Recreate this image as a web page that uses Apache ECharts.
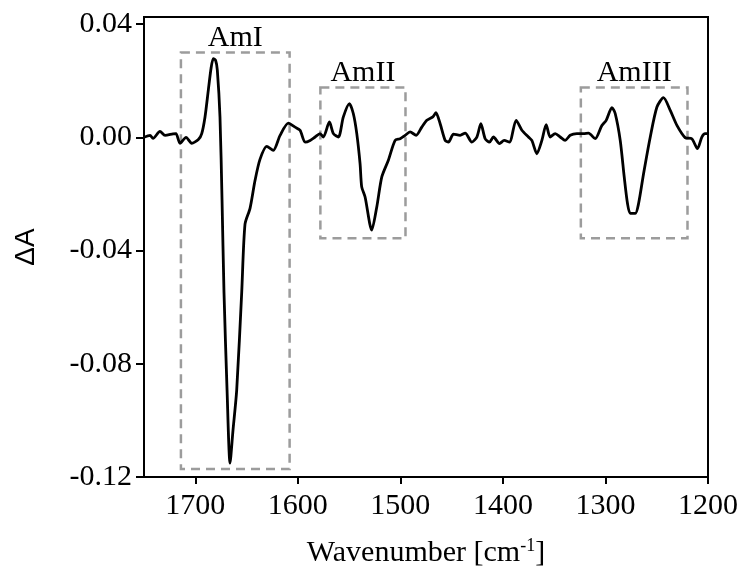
<!DOCTYPE html>
<html>
<head>
<meta charset="utf-8">
<script src="https://cdn.jsdelivr.net/npm/echarts@6/dist/echarts.min.js"></script>
<style>html,body{margin:0;padding:0;background:#fff}#c{width:741px;height:574px}</style>
</head>
<body>
<div id="c"></div>
<script>
// Wavenumber (cm^-1) and ΔA values
const wavenumbers = [1750,1744.1,1741.2,1734.4,1729.5,1721.7,1718.8,1714.9,1709.0,1703.5,1697.0,1693.7,1690.5,1687.3,1684.6,1682.4,1680.2,1678.5,1675.9,1673.9,1672.0,1669.0,1666.1,1663.2,1659.6,1654.7,1651.5,1646.6,1641.7,1636.9,1630.3,1623.9,1617.3,1609.2,1602.7,1597.8,1592.9,1588.0,1583.2,1578.3,1575.1,1569.2,1565.3,1560.4,1555.6,1549.7,1545.9,1542.5,1539.3,1537.7,1534.4,1527.9,1523.0,1518.1,1511.7,1505.1,1500.2,1495.4,1490.5,1484.6,1479.1,1474.2,1468.3,1465.4,1461.2,1456.3,1453.1,1448.2,1441.7,1436.8,1430.3,1425.4,1421.5,1417.3,1413.1,1409.2,1403.3,1398.8,1393.6,1387.1,1381.5,1375.1,1371.8,1366.9,1362.0,1357.8,1353.9,1349.0,1344.1,1339.3,1334.4,1327.9,1321.4,1316.5,1310.0,1303.5,1299.3,1293.7,1290.5,1285.6,1281.7,1278.5,1275.8,1270.9,1267.7,1262.8,1256.3,1249.8,1243.4,1236.8,1230.3,1222.3,1215.8,1210.3,1206.0,1202.8,1200];
const deltaA = [0,0.0007,-0.0004,0.0021,0.0007,0.0012,0.0013,-0.0021,0,-0.0021,-0.0008,0.0013,0.0072,0.0166,0.0244,0.0278,0.0272,0.0237,0.0072,-0.0222,-0.0547,-0.0893,-0.1151,-0.1034,-0.0893,-0.0547,-0.0307,-0.0251,-0.0152,-0.0078,-0.0032,-0.0046,0.0007,0.0050,0.0036,0.0025,-0.0017,-0.0011,0.0001,0.0013,0.0001,0.0054,0.0013,0.0001,0.0072,0.0119,0.0084,0.0013,-0.0093,-0.0175,-0.0211,-0.0328,-0.0246,-0.0140,-0.0081,-0.0011,-0.0005,0.0007,0.0019,0.0007,0.0036,0.0060,0.0072,0.0087,0.0048,-0.0011,-0.0017,0.0011,0.0007,0.0015,-0.0017,0.0001,0.0048,-0.0005,-0.0017,0.0001,-0.0022,-0.0011,-0.0017,0.0060,0.0025,0.0001,-0.0011,-0.0058,-0.0011,0.0045,0.0001,0.0013,0.0001,-0.0011,0.0007,0.0013,0.0013,0.0015,-0.0005,0.0042,0.0060,0.0105,0.0084,-0.0011,-0.0140,-0.0234,-0.0269,-0.0269,-0.0234,-0.0128,0.0001,0.0107,0.0140,0.0095,0.0042,-0.0001,-0.0005,-0.0040,0.0001,0.0013,0.0013];

// Tick labels
const xTicks = [1200,1300,1400,1500,1600,1700];
const yTicks = [-0.12,-0.08,-0.04,0,0.04];

// Band boxes (data coordinates)
const boxNames = ['AmI','AmII','AmIII'];
const boxXStart = [1714,1578,1324];
const boxXEnd = [1608,1495,1220];
const boxYTop = [0.030,0.0176,0.0176];
const boxYBottom = [-0.1172,-0.0357,-0.0357];

const serif = '"Liberation Serif", "Times New Roman", serif';
const chart = echarts.init(document.getElementById('c'), null, {renderer:'canvas'});

const areas = boxNames.map((n,i)=>[
  {name:n, xAxis:boxXStart[i], yAxis:boxYTop[i]},
  {xAxis:boxXEnd[i], yAxis:boxYBottom[i]}
]);

chart.setOption({
  animation:false,
  backgroundColor:'#fff',
  grid:{left:144,right:33,top:17,bottom:97,show:true,borderColor:'#000',borderWidth:2,backgroundColor:'transparent'},
  xAxis:{
    type:'value', inverse:true, min:1200, max:1750,
    name:'Wavenumber [cm{sup|-1}]', nameLocation:'middle', nameGap:60,
    nameTextStyle:{fontFamily:serif,fontSize:30,color:'#000',
      rich:{sup:{fontFamily:serif,fontSize:18,color:'#000',verticalAlign:'top',padding:[0,0,14,0]}}},
    axisLine:{onZero:false,lineStyle:{color:'#000',width:2}},
    axisTick:{show:true,length:7,lineStyle:{color:'#000',width:2},customValues:xTicks},
    axisLabel:{fontFamily:serif,fontSize:30,color:'#000',margin:14,customValues:xTicks,
      formatter:v=>String(v)},
    splitLine:{show:false}
  },
  yAxis:{
    type:'value', min:-0.12, max:0.0425,
    name:'ΔA', nameLocation:'middle', nameGap:104,
    nameTextStyle:{fontFamily:'"Liberation Sans", Arial, sans-serif',fontSize:28,color:'#000'},
    axisLine:{onZero:false,lineStyle:{color:'#000',width:2}},
    axisTick:{show:true,length:8,lineStyle:{color:'#000',width:2},customValues:yTicks},
    axisLabel:{fontFamily:serif,fontSize:30,color:'#000',margin:12,customValues:yTicks,
      formatter:v=>v.toFixed(2)},
    splitLine:{show:false}
  },
  series:[{
    type:'line',
    data:wavenumbers.map((w,i)=>[w,deltaA[i]]),
    showSymbol:false, smooth:0.25,
    lineStyle:{color:'#000',width:2.8},
    markArea:{
      silent:true,
      itemStyle:{color:'rgba(0,0,0,0)',borderColor:'#9c9c9c',borderWidth:2.5,borderType:[9,6]},
      label:{show:true,position:'top',distance:-2,fontFamily:serif,fontSize:30,color:'#000'},
      data:areas
    }
  }]
});
</script>
</body>
</html>
